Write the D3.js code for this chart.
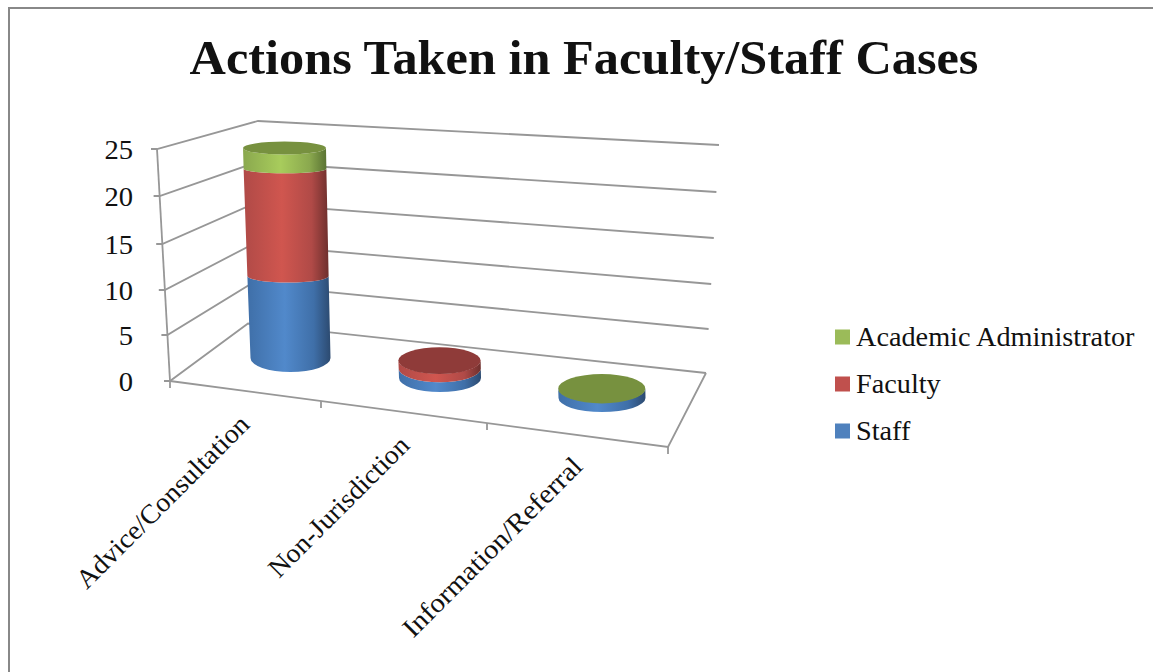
<!DOCTYPE html>
<html><head><meta charset="utf-8">
<script src="https://cdn.jsdelivr.net/npm/d3@7"></script>
<style>html,body{margin:0;padding:0;background:#fff}svg{display:block}text{font-family:"Liberation Serif",serif;fill:#111}</style>
</head><body><svg id="c" width="1153" height="672"></svg>
<script>
const title = "Actions Taken in Faculty/Staff Cases";
const categories = ["Advice/Consultation","Non-Jurisdiction","Information/Referral"];
const staff = [10,1,1];
const faculty = [12,1,0];
const academic = [2,null,0];
const yTicks = [0,5,10,15,20,25];
const seriesNames = ["Staff","Faculty","Academic Administrator"];
const seriesColors = ["#4f81bd","#c0504d","#9bbb59"];
const seriesShades = [["#3f6fa8","#5189cb","#2c4a70"],["#b04a47","#d0564f","#6e2f2d"],["#8aa84e","#a8cc5c","#5a7333"]];
const seriesTops = ["#4f81bd","#8f3b39","#77913f"];

const svg = d3.select("#c");
const defs = svg.append("defs");
seriesShades.forEach((s,i)=>{
  const g = defs.append("linearGradient").attr("id","g"+i);
  [[0,s[0]],[.45,s[1]],[.8,s[0]],[1,s[2]]].forEach(d=>g.append("stop").attr("offset",d[0]).attr("stop-color",d[1]));
});

// chart frame
svg.append("path").attr("d","M9,672V8H1153").attr("fill","none").attr("stroke","#888").attr("stroke-width",2);

// 3D box edges mapped from value (perspective: slightly uneven spacing)
const flX = d3.scaleLinear([0,25],[170,157]), flY = d3.scaleLinear(yTicks,[381,335,290,244,196,149]);
const blX = d3.scaleLinear([0,25],[248,258]), blY = d3.scaleLinear(yTicks,[323.5,284.5,244.6,203.6,162.5,121]);
const brX = d3.scaleLinear([0,25],[706,719]), brY = d3.scaleLinear(yTicks,[373,329,284,238,192,145]);
const grid = "#979797";
const gl = svg.append("g").attr("fill","none").attr("stroke",grid).attr("stroke-width",1.8);
yTicks.forEach(v=>{
  gl.append("path").attr("d",`M${flX(v)-6},${flY(v)}H${flX(v)}L${blX(v)},${blY(v)}L${brX(v)},${brY(v)}`);
});
gl.append("path").attr("d",`M${flX(0)},${flY(0)}L${flX(25)},${flY(25)}`);
// floor front edge + ticks
const frontTickX = [170,321,487,668];
const frontY = d3.scaleLinear([170,668],[381,447]);
gl.append("path").attr("d",`M170,381L668,447L${brX(0)},${brY(0)}`);
frontTickX.forEach(x=>gl.append("path").attr("d",`M${x},${frontY(x)}v7`));

// y labels
svg.append("g").selectAll("text").data(yTicks).join("text")
  .attr("transform",v=>`translate(133,${flY(v)+10}) scale(1.06,1)`).attr("text-anchor","end").attr("font-size",27).text(d=>d);

// cylinders
const cx = d3.scaleLinear([0,1,2],[290.5,440,602]);
const cy = d3.scaleLinear([0,1,2],[358,378,398]);
const rxBase = d3.scaleLinear([0,1,2],[40,41,43.5]);
const hSc = d3.scaleLinear([0,1,10,22,24],[0,9.3,82,189,210]);
const rySc = d3.scaleLinear([0,2,10,22,24],[14,13,6.6,4.2,6.5]);
const xShift = d3.scaleLinear([0,24],[0,-6]);
const rxGrow = d3.scaleLinear([0,24],[0,1.5]);
const series = [staff,faculty,academic];
const gc = svg.append("g");
categories.forEach((c,i)=>{
  let base = 0, top = null;
  series.forEach((vals,si)=>{
    const v = vals[i];
    if(v===null) return;
    top = si;
    if(v>0){
      const t = base+v;
      const x0=cx(i)+xShift(base),y0=cy(i)-hSc(base),r0=rxBase(i)+rxGrow(base),ry0=rySc(base);
      const x1=cx(i)+xShift(t),y1=cy(i)-hSc(t),r1=rxBase(i)+rxGrow(t),ry1=rySc(t);
      gc.append("path").attr("fill",`url(#g${si})`)
        .attr("d",`M${x0-r0},${y0}A${r0},${ry0} 0 0 0 ${x0+r0},${y0}L${x1+r1},${y1}A${r1},${ry1} 0 0 1 ${x1-r1},${y1}Z`);
      base = t;
    }
  });
  gc.append("ellipse").attr("cx",cx(i)+xShift(base)).attr("cy",cy(i)-hSc(base))
    .attr("rx",rxBase(i)+rxGrow(base)).attr("ry",rySc(base)*(rxBase(i)/40)).attr("fill",seriesTops[top]);
});

// category labels
const labelX = d3.scaleLinear([0,1,2],[251,411,584]);
const labelY = d3.scaleLinear([0,1,2],[426,447,468]);
const labelStretch = [1.04,1.03,1.075];
svg.append("g").selectAll("text").data(categories).join("text")
  .attr("transform",(d,i)=>`translate(${labelX(i)},${labelY(i)}) rotate(-45) scale(${labelStretch[i]},1)`)
  .attr("text-anchor","end").attr("font-size",27).text(d=>d);

// title
svg.append("text").attr("transform","translate(584,74) scale(1.049,1)").attr("text-anchor","middle")
  .attr("font-size",48).attr("font-weight","bold").text(title);

// legend
const legendY = d3.scaleLinear([0,1,2],[431,384,337]);
const lg = svg.append("g").selectAll("g").data(seriesNames).join("g")
  .attr("transform",(d,i)=>`translate(835,${legendY(i)})`);
lg.append("rect").attr("y",-7.5).attr("width",15).attr("height",15).attr("fill",(d,i)=>seriesColors[i]);
lg.append("text").attr("transform","translate(21,9) scale(1.047,1)").attr("font-size",27).text(d=>d);
</script></body></html>
